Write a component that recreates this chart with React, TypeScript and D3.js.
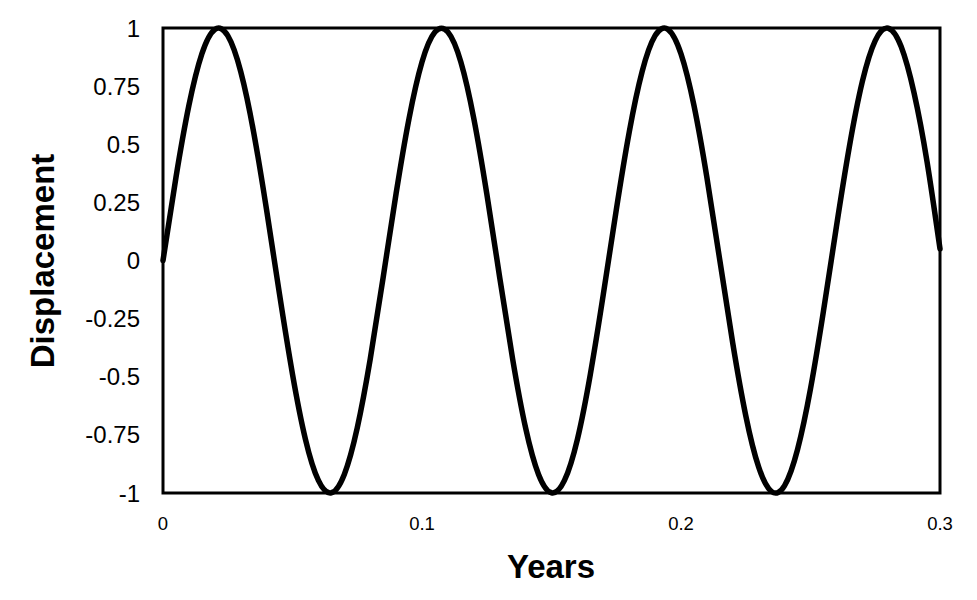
import React from "react";
import * as d3 from "d3";

const years: number[] = [
  0, 0.005, 0.01, 0.015, 0.02, 0.025, 0.03, 0.035, 0.04, 0.045,
  0.05, 0.055, 0.06, 0.065, 0.07, 0.075, 0.08, 0.085, 0.09, 0.095,
  0.1, 0.105, 0.11, 0.115, 0.12, 0.125, 0.13, 0.135, 0.14, 0.145,
  0.15, 0.155, 0.16, 0.165, 0.17, 0.175, 0.18, 0.185, 0.19, 0.195,
  0.2, 0.205, 0.21, 0.215, 0.22, 0.225, 0.23, 0.235, 0.24, 0.245,
  0.25, 0.255, 0.26, 0.265, 0.27, 0.275, 0.28, 0.285, 0.29, 0.295, 0.3,
];

const displacement: number[] = [
  0, 0.357, 0.667, 0.889, 0.994, 0.967, 0.813, 0.552, 0.217, -0.146,
  -0.489, -0.769, -0.946, -0.999, -0.92, -0.72, -0.425, -0.073, 0.288, 0.611,
  0.854, 0.983, 0.983, 0.854, 0.611, 0.288, -0.073, -0.424, -0.72, -0.92,
  -0.999, -0.946, -0.769, -0.489, -0.146, 0.217, 0.552, 0.813, 0.967, 0.994,
  0.889, 0.667, 0.357, 0.0, -0.357, -0.667, -0.889, -0.994, -0.968, -0.813,
  -0.552, -0.218, 0.145, 0.489, 0.769, 0.946, 0.999, 0.92, 0.72, 0.425, 0.05,
];

const xTicks: number[] = [0, 0.1, 0.2, 0.3];
const yTicks: number[] = [1, 0.75, 0.5, 0.25, 0, -0.25, -0.5, -0.75, -1];

const W = 977;
const H = 600;
const left = 163;
const right = 940;
const top = 28;
const bottom = 493;

export default function App() {
  const x = d3.scaleLinear().domain([0, 0.3]).range([left, right]);
  const y = d3.scaleLinear().domain([-1, 1]).range([bottom, top]);
  const pts: [number, number][] = years.map((t, i) => [t, displacement[i]]);
  const line = d3
    .line<[number, number]>()
    .x((d) => x(d[0]))
    .y((d) => y(d[1]))
    .curve(d3.curveNatural);
  const font = "Arial, 'Liberation Sans', sans-serif";
  return (
    <svg
      width={W}
      height={H}
      style={{ position: "absolute", left: 0, top: 0, background: "#fff" }}
    >
      <rect x={0} y={0} width={W} height={H} fill="#fff" />
      <rect
        x={left}
        y={top}
        width={right - left}
        height={bottom - top}
        fill="none"
        stroke="#000"
        strokeWidth={3}
      />
      {yTicks.map((v) => (
        <text
          key={"y" + v}
          x={140}
          y={y(v)}
          textAnchor="end"
          dominantBaseline="central"
          fontFamily={font}
          fontSize={24}
          fill="#000"
        >
          {String(v)}
        </text>
      ))}
      {xTicks.map((v) => (
        <text
          key={"x" + v}
          x={x(v)}
          y={530}
          textAnchor="middle"
          fontFamily={font}
          fontSize={18.5}
          fill="#000"
        >
          {String(v)}
        </text>
      ))}
      <path
        d={line(pts) || ""}
        fill="none"
        stroke="#000"
        strokeWidth={5.5}
        strokeLinejoin="round"
        strokeLinecap="round"
      />
      <text
        x={551}
        y={578}
        textAnchor="middle"
        fontFamily={font}
        fontWeight="bold"
        fontSize={33}
        fill="#000"
      >
        Years
      </text>
      <text
        transform={`translate(54,261) rotate(-90)`}
        textAnchor="middle"
        fontFamily={font}
        fontWeight="bold"
        fontSize={33}
        fill="#000"
      >
        Displacement
      </text>
    </svg>
  );
}
